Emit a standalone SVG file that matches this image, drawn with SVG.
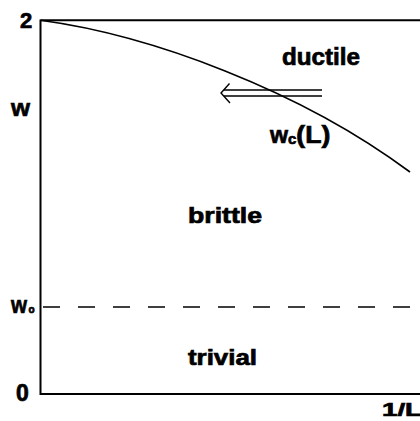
<svg xmlns="http://www.w3.org/2000/svg" width="420" height="421" viewBox="0 0 420 421">
<style>
.t{font-family:"Liberation Sans",Arial,sans-serif;font-weight:bold;fill:#000;stroke:#000;stroke-width:0.7}
.ax{stroke:#000;stroke-width:2;fill:none}
</style>
<rect width="420" height="421" fill="#fff"/>
<g id="axes">
<path class="ax" d="M40.5,19.5 V394 H420 M40.5,20.3 H420"/>
</g>
<g id="connectors">
<path id="wc-curve" d="M40.5,20.3 C150,35 300,90 410,172" fill="none" stroke="#000" stroke-width="1.6"/>
<line id="w0-line" x1="43" y1="307" x2="420" y2="307" stroke="#000" stroke-width="1.6" stroke-dasharray="17 18"/>
<g id="double-arrow" fill="none" stroke="#000" stroke-width="1.4">
<path d="M224,90 H322 M224,96 H322"/>
<path d="M229.5,83.5 L221,93 L230,103"/>
</g>
</g>
<g id="labels">
<text class="t" x="20" y="28" font-size="22">2</text>
<text class="t" x="11" y="116" font-size="24" textLength="19" lengthAdjust="spacingAndGlyphs">w</text>
<text class="t" x="11" y="313" font-size="24" textLength="16" lengthAdjust="spacingAndGlyphs">w</text>
<text class="t" x="28.5" y="313" font-size="10">o</text>
<text class="t" x="16" y="401" font-size="23">0</text>
<text class="t" x="382" y="416" font-size="19" textLength="40" lengthAdjust="spacingAndGlyphs">1/L</text>
</g>
<g id="ductile"><text class="t" x="282" y="65" font-size="23" textLength="78" lengthAdjust="spacingAndGlyphs">ductile</text></g>
<g id="wc"><text class="t" x="270" y="143" font-size="23"><tspan textLength="18" lengthAdjust="spacingAndGlyphs">w</tspan><tspan font-size="15" dy="1">c</tspan><tspan dy="-1" textLength="34" lengthAdjust="spacingAndGlyphs">(L)</tspan></text></g>
<g id="brittle"><text class="t" x="188" y="223" font-size="22" textLength="74" lengthAdjust="spacingAndGlyphs">brittle</text></g>
<g id="trivial"><text class="t" x="188" y="365" font-size="22" textLength="69" lengthAdjust="spacingAndGlyphs">trivial</text></g>
</svg>
